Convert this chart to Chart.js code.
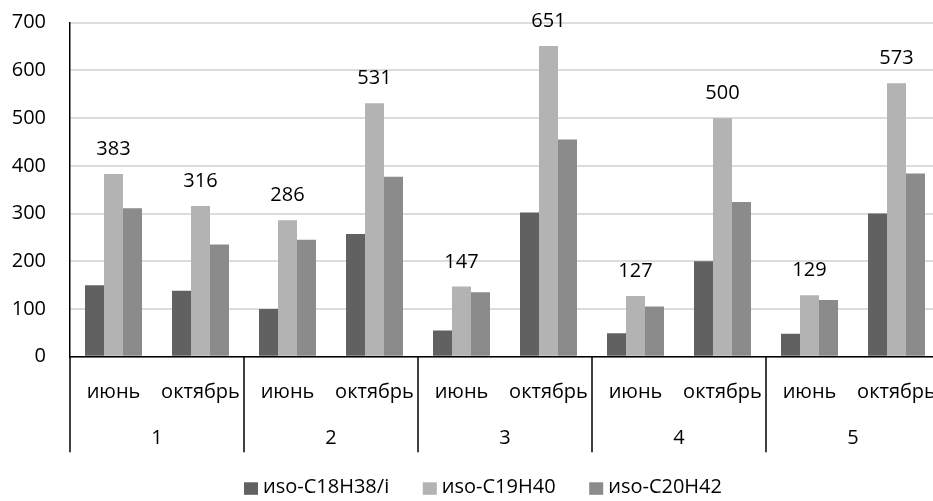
<!DOCTYPE html>
<html>
<head>
<meta charset="utf-8">
<script src="https://cdn.jsdelivr.net/npm/chart.js@4"></script>
<style>
html,body{margin:0;padding:0;overflow:hidden;background:#fff;width:933px;height:501px;}
canvas{display:block;}
</style>
</head>
<body>
<canvas id="c" width="942" height="501"></canvas>
<script>
const categories = ['июнь','октябрь','июнь','октябрь','июнь','октябрь','июнь','октябрь','июнь','октябрь'];
const groups = ['1','2','3','4','5'];
const seriesNames = ['иso-C18H38/i','иso-C19H40','иso-C20H42'];
const seriesA = [150, 138, 100, 257, 55, 302, 49, 200, 48, 300];
const seriesB = [383, 316, 286, 531, 147, 651, 127, 500, 129, 573];
const seriesC = [311, 235, 245, 377, 135, 455, 105, 324, 119, 384];
const yTicks = [0,100,200,300,400,500,600,700];
const colors = ['#616161','#b3b3b3','#8b8b8b'];
const FONT = '"Open Sans", "Liberation Sans", sans-serif';

const custom = {
  id: 'custom',
  afterDraw(chart) {
    const ctx = chart.ctx;
    const x = chart.scales.x;
    const area = chart.chartArea;
    ctx.save();
    const meta = chart.getDatasetMeta(1);
    ctx.font = '20px ' + FONT;
    ctx.fillStyle = '#000';
    ctx.textAlign = 'center';
    ctx.textBaseline = 'alphabetic';
    meta.data.forEach((bar, i) => {
      ctx.fillText(String(seriesB[i]), bar.x, bar.y - 19);
    });
    categories.forEach((c, i) => {
      ctx.fillText(c, x.getPixelForValue(i), area.bottom + 41.5);
    });
    const bounds = [];
    for (let g = 0; g <= groups.length; g++) {
      const k = g * 2;
      let px;
      if (k === 0) px = x.left;
      else if (k >= categories.length) px = x.right;
      else px = (x.getPixelForValue(k - 1) + x.getPixelForValue(k)) / 2;
      bounds.push(px);
    }
    groups.forEach((g, i) => {
      ctx.fillText(g, (bounds[i] + bounds[i + 1]) / 2, area.bottom + 87.5);
    });
    ctx.strokeStyle = '#000';
    ctx.lineWidth = 1.5;
    bounds.forEach(px => {
      ctx.beginPath();
      ctx.moveTo(px, area.bottom);
      ctx.lineTo(px, area.bottom + 95.5);
      ctx.stroke();
    });
    ctx.textAlign = 'left';
    const box = 14, gapText = 5, gapItem = 33.6;
    const widths = seriesNames.map(n => ctx.measureText(n).width);
    let total = 0;
    widths.forEach((w, i) => { total += box + gapText + w + (i < widths.length - 1 ? gapItem : 0); });
    let lx = 483 - total / 2;
    const baseY = 493.3;
    seriesNames.forEach((n, i) => {
      ctx.fillStyle = colors[i];
      ctx.fillRect(lx, baseY - 11, box, 12.5);
      ctx.fillStyle = '#000';
      ctx.fillText(n, lx + box + gapText, baseY);
      lx += box + gapText + widths[i] + gapItem;
    });
    ctx.restore();
  }
};

new Chart(document.getElementById('c'), {
  type: 'bar',
  data: {
    labels: categories,
    datasets: [
      { label: seriesNames[0], data: seriesA, backgroundColor: colors[0] },
      { label: seriesNames[1], data: seriesB, backgroundColor: colors[1] },
      { label: seriesNames[2], data: seriesC, backgroundColor: colors[2] }
    ]
  },
  options: {
    responsive: false,
    animation: false,
    devicePixelRatio: 1,
    layout: { padding: { top: 22.7, right: 2, bottom: 0, left: 0 } },
    datasets: { bar: { categoryPercentage: 0.655, barPercentage: 1.0 } },
    plugins: { legend: { display: false }, tooltip: { enabled: false } },
    scales: {
      x: {
        ticks: { display: false },
        grid: { display: false, drawTicks: false },
        border: { display: true, color: '#000', width: 1.5 },
        afterFit(s) { s.height = 144.3; }
      },
      y: {
        min: 0, max: 700,
        afterBuildTicks(s) { s.ticks = yTicks.map(v => ({ value: v })); },
        ticks: { padding: 0, color: '#000', font: { size: 20, family: FONT } },
        grid: { color: '#dcdcdc', lineWidth: 2, drawTicks: true, tickLength: 24, tickColor: 'rgba(0,0,0,0)' },
        border: { display: true, color: '#000', width: 1.5 },
        afterFit(s) { s.width = 70; }
      }
    }
  },
  plugins: [custom]
});
</script>
</body>
</html>
